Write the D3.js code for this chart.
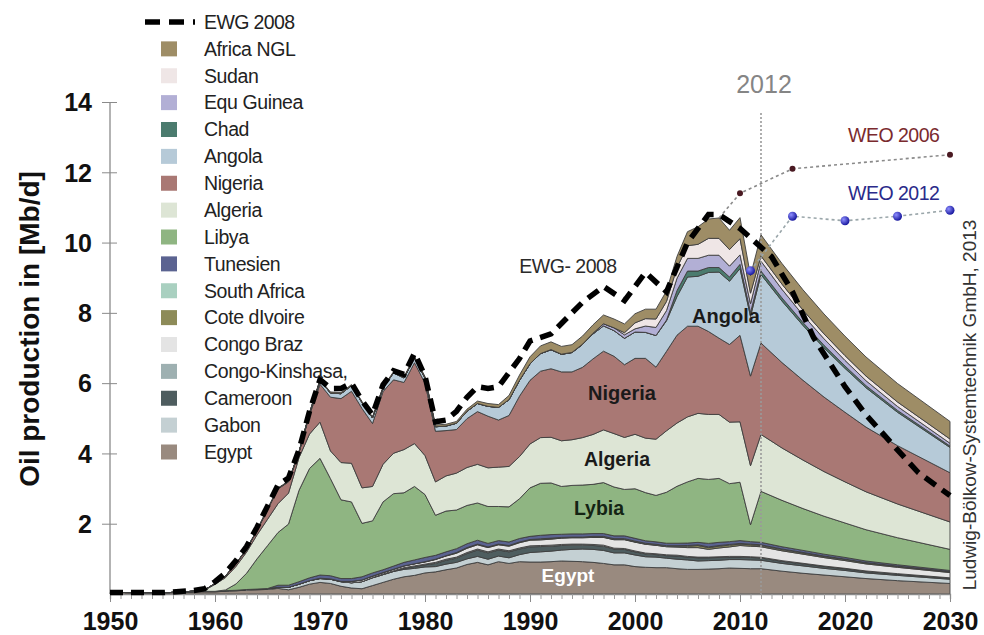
<!DOCTYPE html>
<html><head><meta charset="utf-8">
<script src="https://cdn.jsdelivr.net/npm/d3@7"></script>
<style>
html,body{margin:0;padding:0;background:#fff;}
svg{display:block;font-family:"Liberation Sans",Arial,sans-serif;}
</style></head>
<body>
<svg id="chart" width="984" height="635"></svg>
<script>
// ---------------- DATA ----------------
const years = [1950,1955,1957,
  1958,1959,1960,1961,1962,1963,1964,1965,1966,1967,1968,1969,
  1970,1971,1972,1973,1974,1975,1976,1977,1978,1979,
  1980,1981,1982,1983,1984,1985,1986,1987,1988,1989,
  1990,1991,1992,1993,1994,1995,1996,1997,1998,1999,
  2000,2001,2002,2003,2004,2005,2006,2007,2008,2009,
  2010,2011,2012,
  2014,2016,2018,2020,2022,2025,2030];

const egypt = [.045,.035,.045,
  .06,.06,.06,.08,.09,.11,.12,.13,.16,.12,.19,.28,
  .33,.30,.22,.17,.15,.24,.33,.42,.49,.53,
  .60,.63,.69,.74,.84,.90,.83,.92,.87,.92,
  .91,.91,.92,.94,.93,.92,.90,.87,.83,.83,
  .78,.76,.75,.75,.72,.70,.70,.71,.72,.74,
  .73,.72,.72,
  .65,.59,.54,.49,.44,.38,.30];
const gabon = [0,0,.01,
  .01,.015,.016,.016,.016,.018,.02,.025,.03,.07,.09,.10,
  .11,.12,.13,.15,.20,.22,.22,.22,.21,.20,
  .17,.15,.16,.16,.16,.17,.16,.16,.16,.20,
  .27,.29,.30,.31,.34,.36,.37,.37,.34,.34,
  .33,.30,.30,.27,.27,.27,.24,.24,.24,.24,
  .25,.25,.24,
  .22,.21,.19,.18,.16,.15,.12];
const cameroon = [0,0,0,
  0,0,0,0,0,0,0,0,0,0,0,0,
  0,0,0,0,0,0,0,.005,.03,.05,
  .06,.09,.11,.12,.15,.18,.18,.17,.17,.16,
  .16,.15,.14,.13,.12,.11,.11,.12,.11,.10,
  .09,.08,.07,.07,.09,.08,.09,.08,.08,.07,
  .07,.07,.065,
  .06,.056,.05,.046,.042,.037,.03];
const congoKinshasa = [0,0,0,
  0,0,0,0,0,0,0,0,0,0,0,0,
  0,0,0,0,0,.01,.02,.02,.02,.02,
  .02,.03,.03,.03,.03,.03,.03,.03,.03,.03,
  .03,.03,.03,.03,.03,.03,.03,.03,.025,.025,
  .025,.025,.025,.025,.025,.02,.02,.02,.02,.02,
  .02,.02,.02,
  .019,.018,.016,.015,.014,.012,.01];
const congoBraz = [0,0,0,
  0,0,0,0,0,0,0,0,0,0,0,0,
  .01,.01,.01,.04,.05,.04,.04,.04,.05,.06,
  .06,.08,.09,.11,.12,.12,.12,.12,.13,.15,
  .16,.16,.17,.18,.18,.18,.20,.22,.24,.25,
  .25,.25,.24,.23,.23,.25,.27,.22,.25,.27,
  .31,.30,.30,
  .28,.26,.24,.22,.20,.18,.15];
const coteDIvoire = [0,0,0,
  0,0,0,0,0,0,0,0,0,0,0,0,
  0,0,0,0,0,0,0,0,0,0,
  .01,.01,.01,.02,.02,.02,.02,.02,.02,.02,
  .02,.02,.02,.01,.01,.01,.01,.01,.01,.01,
  .01,.01,.01,.01,.02,.04,.06,.05,.05,.05,
  .04,.04,.035,
  .033,.031,.029,.027,.025,.023,.02];
const southAfrica = [0,0,0,
  0,0,0,0,0,0,0,0,0,0,0,0,
  0,0,0,0,0,0,0,0,0,0,
  0,0,0,0,0,0,0,0,0,0,
  0,.01,.01,.01,.01,.01,.02,.02,.02,.02,
  .02,.02,.02,.02,.02,.02,.02,.02,.02,.02,
  .02,.02,.02,
  .019,.018,.016,.015,.014,.012,.01];
const tunesien = [0,0,0,
  0,0,0,0,0,0,0,0,.06,.06,.07,.08,
  .09,.09,.08,.08,.09,.09,.08,.09,.10,.11,
  .12,.11,.11,.11,.11,.11,.10,.10,.10,.10,
  .09,.10,.10,.09,.09,.09,.08,.08,.08,.08,
  .08,.07,.07,.07,.07,.07,.07,.10,.09,.08,
  .08,.07,.07,
  .064,.058,.053,.048,.044,.038,.03];
const libya = [0,0,0,
  0,0,0,.02,.18,.46,.86,1.22,1.50,1.74,2.60,3.11,
  3.32,2.76,2.24,2.18,1.52,1.48,1.93,2.06,1.98,2.09,
  1.79,1.14,1.16,1.10,1.09,1.06,1.05,.97,1.00,1.13,
  1.38,1.48,1.47,1.36,1.38,1.39,1.40,1.45,1.39,1.32,
  1.41,1.37,1.32,1.45,1.62,1.74,1.82,1.82,1.82,1.65,
  1.66,.48,1.45,
  1.32,1.19,1.08,.98,.89,.77,.60];
const algeria = [0,0,0,
  .01,.03,.20,.35,.50,.60,.68,.75,.82,.88,.93,.98,
  1.03,.79,1.06,1.10,1.01,.98,1.07,1.15,1.23,1.22,
  1.11,.95,1.00,1.05,1.08,1.10,1.10,1.12,1.15,1.20,
  1.25,1.30,1.30,1.30,1.30,1.35,1.42,1.50,1.52,1.48,
  1.55,1.55,1.60,1.75,1.80,1.85,1.85,1.85,1.82,1.75,
  1.72,1.68,1.62,
  1.49,1.38,1.27,1.17,1.08,.96,.78];
const nigeria = [0,0,0,
  .005,.011,.017,.046,.068,.076,.12,.27,.42,.32,.14,.54,
  1.08,1.53,1.82,2.05,2.26,1.79,2.07,2.09,1.91,2.30,
  2.06,1.44,1.29,1.24,1.39,1.50,1.47,1.34,1.45,1.72,
  1.81,1.89,1.95,1.96,1.93,2.00,2.15,2.24,2.20,2.07,
  2.16,2.27,2.05,2.26,2.50,2.58,2.48,2.36,2.17,2.21,
  2.46,2.55,2.60,
  2.43,2.27,2.12,1.98,1.84,1.66,1.40];
const angola = [0,0,0,
  .001,.001,.001,.002,.009,.01,.011,.013,.012,.01,.015,.05,
  .10,.12,.14,.16,.17,.16,.10,.20,.13,.14,
  .15,.13,.13,.18,.21,.23,.28,.36,.45,.45,
  .47,.50,.54,.50,.55,.65,.71,.72,.73,.75,
  .75,.74,.90,.87,1.10,1.40,1.42,1.68,1.88,1.80,
  1.90,1.70,1.95,
  1.75,1.56,1.40,1.25,1.12,.95,.72];
const chad = [0,0,0,
  0,0,0,0,0,0,0,0,0,0,0,0,
  0,0,0,0,0,0,0,0,0,0,
  0,0,0,0,0,0,0,0,0,0,
  0,0,0,0,0,0,0,0,0,0,
  0,0,0,.02,.17,.17,.15,.14,.13,.12,
  .12,.11,.10,
  .09,.082,.074,.067,.06,.052,.04];
const equGuinea = [0,0,0,
  0,0,0,0,0,0,0,0,0,0,0,0,
  0,0,0,0,0,0,0,0,0,0,
  0,0,0,0,0,0,0,0,0,0,
  0,0,.005,.005,.005,.01,.02,.06,.08,.10,
  .09,.18,.23,.27,.35,.36,.36,.35,.35,.31,
  .27,.25,.28,
  .244,.212,.185,.16,.14,.113,.08];
const sudan = [0,0,0,
  0,0,0,0,0,0,0,0,0,0,0,0,
  0,0,0,0,0,0,0,0,0,0,
  0,0,0,0,0,0,0,0,0,0,
  0,0,0,0,0,0,0,0,0,.06,
  .17,.21,.24,.26,.30,.36,.40,.48,.48,.47,
  .46,.30,.15,
  .147,.143,.139,.135,.132,.126,.12];
const africaNGL = [0,0,0,
  0,0,.005,.005,.01,.01,.01,.01,.015,.015,.02,.02,
  .03,.03,.03,.03,.03,.03,.03,.03,.03,.04,
  .04,.05,.05,.05,.06,.07,.08,.08,.12,.15,
  .20,.22,.22,.22,.22,.23,.24,.25,.25,.25,
  .26,.27,.28,.30,.32,.40,.50,.55,.58,.55,
  .60,.50,.60,
  .588,.577,.566,.554,.544,.527,.50];

// EWG 2008 scenario (dashed line)
const ewgYears = [1950,1955,1958,1959,1960,1961,1962,1963,1964,1965,1966,1967,1968,1969,
  1970,1971,1972,1973,1974,1975,1976,1977,1978,1979,1980,1981,1982,1983,1984,1985,1986,1987,1988,1989,
  1990,1992,1995,1997,1999,2001,2003,2005,2007,2008,2010,2013,2015,2017,2020,2022,2025,2027,2030];
const ewgValues = [.04,.04,.1,.15,.35,.6,.95,1.35,1.9,2.5,3.1,3.3,4.1,5.2,
  6.1,5.85,5.85,6.0,5.5,5.1,5.95,6.35,6.25,6.85,6.2,4.9,4.95,5.2,5.6,5.9,5.85,5.9,6.3,6.7,
  7.2,7.4,8.3,8.75,8.35,9.15,8.6,10.0,10.8,10.8,10.4,9.6,8.6,7.3,5.9,5.1,4.1,3.45,2.8];

// WEO outlooks
const weo2006Years = [2008,2010,2015,2030];
const weo2006Values = [10.7,11.4,12.1,12.5];
const weo2012Years = [2011,2015,2020,2025,2030];
const weo2012Values = [9.2,10.75,10.62,10.75,10.92];

const yTicks = [2,4,6,8,10,12,14];
const xTicks = [1950,1960,1970,1980,1990,2000,2010,2020,2030];

// series, bottom to top
const seriesKeys = ["Egypt","Gabon","Cameroon","Congo-Kinshasa,","Congo Braz","Cote dIvoire","South Africa","Tunesien","Libya","Algeria","Nigeria","Angola","Chad","Equ Guinea","Sudan","Africa NGL"];
const seriesData = [egypt,gabon,cameroon,congoKinshasa,congoBraz,coteDIvoire,southAfrica,tunesien,libya,algeria,nigeria,angola,chad,equGuinea,sudan,africaNGL];
const seriesColors = ["#998a7f","#c4d0d3","#4e5d5f","#9eb0b1","#e4e4e4","#8d8b58","#a9d0c0","#5b6391","#8fb582","#dde5d5","#a97874","#b6cad8","#4b7b6e","#b2afd5","#efe6e6","#9e8d66"];

// ---------------- CHART ----------------
const svg = d3.select("#chart");
const x = d3.scaleLinear().domain([1950,2030]).range([110,950]);
const y = d3.scaleLinear().domain([0,14]).range([594,102]);

const table = years.map((yr,i)=>{
  const row = {year: yr};
  seriesKeys.forEach((k,j)=>{ row[k] = seriesData[j][i]; });
  return row;
});
const stack = d3.stack().keys(seriesKeys)(table);
const area = d3.area().x(d=>x(d.data.year)).y0(d=>y(d[0])).y1(d=>y(d[1]));

svg.append("g").selectAll("path").data(stack).join("path")
  .attr("d", area)
  .attr("fill", (d,i)=>seriesColors[i])
  .attr("stroke", "#3e3e3e")
  .attr("stroke-width", 0.9)
  .attr("stroke-linejoin","round");

// axes
const gx = svg.append("g").attr("transform",`translate(0,${y(0)})`);
gx.call(d3.axisBottom(x).tickValues(d3.range(1950,2031,1)).tickSize(5).tickFormat(""));
gx.call(g=>{ g.select(".domain").attr("stroke","#8a8a8a").attr("stroke-width",1.3); g.selectAll(".tick line").attr("stroke","#9a9a9a"); });
const gx2 = svg.append("g").attr("transform",`translate(0,${y(0)})`);
gx2.call(d3.axisBottom(x).tickValues(xTicks).tickSize(8).tickFormat(d3.format("d")));
gx2.select(".domain").remove();
gx2.selectAll(".tick line").attr("stroke","#8a8a8a");
gx2.selectAll(".tick text").attr("y",36).attr("dy",0)
  .attr("font-size",25).attr("font-weight","bold").attr("fill","#111")
  .attr("font-family","Liberation Sans, Arial, sans-serif");

const gy = svg.append("g").attr("transform",`translate(${x(1950)},0)`);
gy.call(d3.axisLeft(y).tickValues(yTicks).tickSize(8).tickPadding(10));
gy.select(".domain").attr("stroke","#8a8a8a").attr("stroke-width",1.3).attr("d",`M0,${y(14)}V${y(0)}`);
gy.selectAll(".tick line").attr("x1",7).attr("x2",-8).attr("stroke","#8a8a8a");
gy.selectAll(".tick text").attr("font-size",25).attr("font-weight","bold").attr("fill","#111")
  .attr("font-family","Liberation Sans, Arial, sans-serif").attr("dy","0.35em");

svg.append("text").attr("transform","translate(39,329) rotate(-90)")
  .attr("text-anchor","middle").attr("font-size",28).attr("font-weight","bold").attr("fill","#111")
  .text("Oil production in [Mb/d]");

// 2012 marker line
svg.append("line").attr("x1",x(2012)).attr("x2",x(2012)).attr("y1",113).attr("y2",y(0))
  .attr("stroke","#9a9a9a").attr("stroke-width",1.6).attr("stroke-dasharray","2,2");
svg.append("text").attr("x",x(2012)+3).attr("y",93).attr("text-anchor","middle")
  .attr("font-size",25).attr("fill","#858585").text("2012");

// EWG line
const line = d3.line().x(d=>x(d[0])).y(d=>y(d[1]));
svg.append("path").datum(ewgYears.map((yr,i)=>[yr,ewgValues[i]]))
  .attr("d",line).attr("fill","none").attr("stroke","#000").attr("stroke-width",5.5)
  .attr("stroke-dasharray","13,8");

// WEO lines
const defs = svg.append("defs");
const grad = defs.append("radialGradient").attr("id","ball").attr("cx","35%").attr("cy","35%").attr("r","65%");
grad.append("stop").attr("offset","0%").attr("stop-color","#8f8fff");
grad.append("stop").attr("offset","100%").attr("stop-color","#1a1aa0");

const w06 = weo2006Years.map((yr,i)=>[yr,weo2006Values[i]]);
svg.append("path").datum(w06).attr("d",line).attr("fill","none")
  .attr("stroke","#8a8a8a").attr("stroke-width",1.6).attr("stroke-dasharray","3,3");
svg.append("g").selectAll("circle").data(w06.filter(d=>d[0]>=2010)).join("circle")
  .attr("cx",d=>x(d[0])).attr("cy",d=>y(d[1])).attr("r",3).attr("fill","#4a1a22");

const w12 = weo2012Years.map((yr,i)=>[yr,weo2012Values[i]]);
svg.append("path").datum(w12).attr("d",line).attr("fill","none")
  .attr("stroke","#9aa6aa").attr("stroke-width",1.6).attr("stroke-dasharray","3,3");
svg.append("g").selectAll("circle").data(w12).join("circle")
  .attr("cx",d=>x(d[0])).attr("cy",d=>y(d[1])).attr("r",4.5).attr("fill","url(#ball)");

svg.append("text").attr("x",848).attr("y",142).attr("font-size",19.5).attr("fill","#7a2a2e")
  .attr("letter-spacing","-0.5").text("WEO 2006");
svg.append("text").attr("x",848).attr("y",200).attr("font-size",19.5).attr("fill","#2a2a8a")
  .attr("letter-spacing","-0.5").text("WEO 2012");

// in-chart labels
const lab = (t,xx,yy,fs,col)=>svg.append("text").attr("x",xx).attr("y",yy).attr("text-anchor","middle")
  .attr("font-size",fs).attr("font-weight","bold").attr("fill",col).text(t);
lab("Angola",726,323,20,"#1a1a1a");
lab("Nigeria",622,400,20,"#1a1a1a");
lab("Algeria",617,466,19.5,"#1a1a1a");
lab("Lybia",599,515,19.5,"#142414");
lab("Egypt",568,582,19,"#ffffff");
svg.append("text").attr("x",568).attr("y",273).attr("text-anchor","middle")
  .attr("font-size",19.5).attr("fill","#2a2a2a").attr("letter-spacing","-0.5").text("EWG- 2008");

svg.append("text").attr("transform","translate(976,405) rotate(-90)").attr("text-anchor","middle")
  .attr("font-size",19).attr("fill","#333").text("Ludwig-Bölkow-Systemtechnik GmbH, 2013");

// legend
const leg = svg.append("g");
const rowY = i => 22 + i*26.875;
leg.append("line").attr("x1",145).attr("x2",195).attr("y1",rowY(0)).attr("y2",rowY(0))
  .attr("stroke","#000").attr("stroke-width",5.5).attr("stroke-dasharray","15,9");
leg.append("text").attr("x",204).attr("y",rowY(0)).attr("dy","0.35em").attr("font-size",19.5).attr("fill","#222")
  .attr("letter-spacing","-0.6").text("EWG 2008");
const legKeys = seriesKeys.slice().reverse();
const legCols = seriesColors.slice().reverse();
legKeys.forEach((k,i)=>{
  const yy = rowY(i+1);
  leg.append("rect").attr("x",161).attr("y",yy-7.5).attr("width",16).attr("height",15).attr("fill",legCols[i]);
  leg.append("text").attr("x",204).attr("y",yy).attr("dy","0.35em").attr("font-size",19.5).attr("fill","#222")
    .attr("letter-spacing","-0.4").text(k);
});
</script>
</body></html>
